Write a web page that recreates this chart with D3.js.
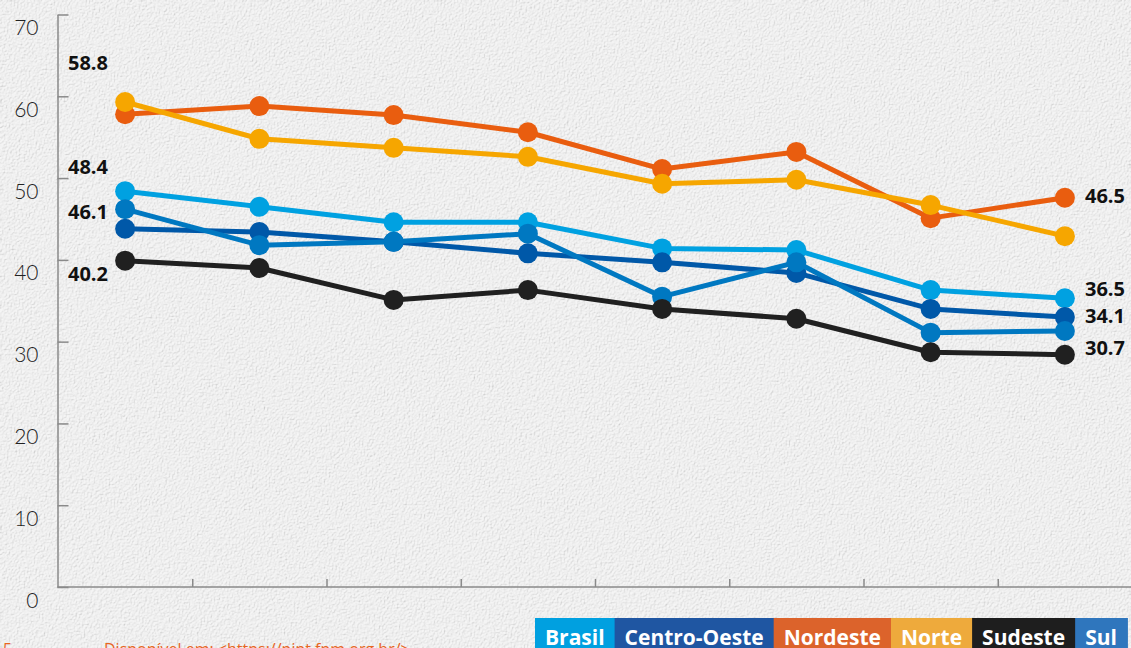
<!DOCTYPE html>
<html>
<head>
<meta charset="utf-8">
<script src="https://cdn.jsdelivr.net/npm/d3@7"></script>
<style>
  html, body { margin: 0; padding: 0; background: #efefef; overflow: hidden; }
  svg { display: block; }
</style>
</head>
<body>
<svg id="chart"></svg>
<script>
// eight periods, the x axis shows no labels
const periods = ["1", "2", "3", "4", "5", "6", "7", "8"];

const regions = ["Brasil", "Centro-Oeste", "Nordeste", "Norte", "Sul", "Sudeste"];

const brasil = [48.4, 46.5, 44.6, 44.6, 41.4, 41.2, 36.3, 35.3];
const centroOeste = [43.8, 43.4, 42.2, 40.8, 39.7, 38.4, 34.0, 33.0];
const nordeste = [57.8, 58.8, 57.7, 55.6, 51.1, 53.2, 45.1, 47.6];
const norte = [59.3, 54.8, 53.7, 52.6, 49.3, 49.8, 46.7, 42.9];
const sul = [46.2, 41.8, 42.2, 43.2, 35.5, 39.7, 31.1, 31.3];
const sudeste = [39.9, 39.0, 35.1, 36.3, 34.0, 32.8, 28.7, 28.4];

const yTicks = [0, 10, 20, 30, 40, 50, 60, 70];

// value labels: text, which end of the chart, height (in axis units) of the baseline
const labelTexts = ["58.8", "48.4", "46.1", "40.2", "46.5", "36.5", "34.1", "30.7"];
const labelSides = ["left", "left", "left", "left", "right", "right", "right", "right"];
const labelLevels = [63.2, 50.5, 45.0, 37.4, 46.9, 35.6, 32.3, 28.4];

const legendNames = ["Brasil", "Centro-Oeste", "Nordeste", "Norte", "Sudeste", "Sul"];

const lineColors = {
  "Brasil": "#00a1e1",
  "Centro-Oeste": "#0058a8",
  "Nordeste": "#e95d0f",
  "Norte": "#f6a600",
  "Sul": "#0078c1",
  "Sudeste": "#202020"
};
const legendColors = {
  "Brasil": "#00a0e0",
  "Centro-Oeste": "#1f56a2",
  "Nordeste": "#dc632b",
  "Norte": "#eeaa3c",
  "Sudeste": "#1e1e1e",
  "Sul": "#2f76bd"
};

const seriesValues = {
  "Brasil": brasil,
  "Centro-Oeste": centroOeste,
  "Nordeste": nordeste,
  "Norte": norte,
  "Sul": sul,
  "Sudeste": sudeste
};

const svgWidth = 1131, svgHeight = 648;
const plotLeft = 57.5, plotRight = 1132, plotTop = 14.5, plotBottom = 587;

const svg = d3.select("#chart")
  .attr("width", svgWidth)
  .attr("height", svgHeight);

// paper texture
const defs = svg.append("defs");
const paper = defs.append("filter").attr("id", "paper")
  .attr("x", 0).attr("y", 0).attr("width", "100%").attr("height", "100%");
paper.append("feTurbulence")
  .attr("type", "fractalNoise")
  .attr("baseFrequency", 0.6)
  .attr("numOctaves", 4)
  .attr("seed", 4)
  .attr("result", "noise");
paper.append("feDiffuseLighting")
  .attr("in", "noise")
  .attr("lighting-color", "#ffffff")
  .attr("surfaceScale", 1.6)
  .attr("result", "lit")
  .append("feDistantLight")
  .attr("azimuth", 45)
  .attr("elevation", 60);

svg.append("rect")
  .attr("width", svgWidth)
  .attr("height", svgHeight)
  .attr("fill", "#f0f0f0");
svg.append("rect")
  .attr("width", svgWidth)
  .attr("height", svgHeight)
  .attr("filter", "url(#paper)")
  .attr("opacity", 0.45);

const xScale = d3.scaleBand()
  .domain(periods)
  .range([58, plotRight]);

// boundaries between periods, for the x axis ticks
const xEdges = d3.scaleLinear()
  .domain([0, periods.length])
  .range([58, plotRight]);

const yScale = d3.scaleLinear()
  .domain([0, 70])
  .range([plotBottom, plotTop]);

const axisColor = "#8a8a8a";

const yAxis = d3.axisLeft(yScale)
  .tickValues(yTicks)
  .tickSize(-11)
  .tickSizeOuter(0)
  .tickPadding(19);

const yAxisG = svg.append("g")
  .attr("transform", `translate(${plotLeft}, 0)`)
  .call(yAxis);
yAxisG.select(".domain").attr("stroke", axisColor).attr("stroke-width", 1.5);
yAxisG.selectAll(".tick line").attr("stroke", axisColor).attr("stroke-width", 1.5);
yAxisG.selectAll(".tick text")
  .attr("dy", 20)
  .attr("fill", "#222")
  .style("font-family", "Lato, 'Open Sans', sans-serif")
  .style("font-weight", 300)
  .style("font-size", "21px");

const xAxis = d3.axisBottom(xEdges)
  .tickValues(d3.range(1, periods.length))
  .tickFormat("")
  .tickSize(-8)
  .tickSizeOuter(0);

const xAxisG = svg.append("g")
  .attr("transform", `translate(0, ${plotBottom})`)
  .call(xAxis);
xAxisG.select(".domain")
  .attr("stroke", axisColor).attr("stroke-width", 1.5)
  .attr("d", `M${plotLeft},0H${plotRight}`);
xAxisG.selectAll(".tick line").attr("stroke", axisColor).attr("stroke-width", 1.5);

const line = d3.line()
  .x((d, i) => xScale(periods[i]) + xScale.bandwidth() / 2)
  .y(d => yScale(d));

const seriesG = svg.selectAll(".series")
  .data(regions)
  .enter()
  .append("g")
  .attr("class", "series");

seriesG.append("path")
  .attr("d", r => line(seriesValues[r]))
  .attr("fill", "none")
  .attr("stroke", r => lineColors[r])
  .attr("stroke-width", 5)
  .attr("stroke-linejoin", "round");

seriesG.selectAll("circle")
  .data(r => seriesValues[r].map(v => ({ region: r, value: v })))
  .enter()
  .append("circle")
  .attr("cx", (d, i) => xScale(periods[i]) + xScale.bandwidth() / 2)
  .attr("cy", d => yScale(d.value))
  .attr("r", 10)
  .attr("fill", d => lineColors[d.region]);

// value labels
svg.selectAll(".value-label")
  .data(labelTexts)
  .enter()
  .append("text")
  .attr("class", "value-label")
  .attr("x", (d, i) => labelSides[i] === "left" ? 68 : 1085)
  .attr("y", (d, i) => yScale(labelLevels[i]))
  .attr("fill", "#111")
  .style("font-family", "'Open Sans', 'Noto Sans', sans-serif")
  .style("font-weight", 700)
  .style("font-size", "20px")
  .text(d => d);

// legend strip at the bottom right
const legendG = svg.append("g").attr("class", "legend");
const legendItems = legendG.selectAll("g")
  .data(legendNames)
  .enter()
  .append("g");

legendItems.append("rect")
  .attr("fill", d => legendColors[d])
  .attr("y", 618)
  .attr("height", 30);

legendItems.append("text")
  .attr("y", 645)
  .attr("fill", "#fff")
  .style("font-family", "'Open Sans', 'Noto Sans', sans-serif")
  .style("font-weight", 700)
  .style("font-size", "21px")
  .text(d => d);

let legendX = 535;
const legendPad = 10;
legendItems.each(function () {
  const item = d3.select(this);
  const w = item.select("text").node().getComputedTextLength();
  item.select("rect").attr("x", legendX).attr("width", w + legendPad * 2 + 1);
  item.select("text").attr("x", legendX + legendPad);
  legendX += w + legendPad * 2;
});

// source line, cut by the bottom edge
svg.append("text")
  .attr("x", 3)
  .attr("y", 655)
  .attr("fill", "#e8651f")
  .style("font-family", "'Open Sans', sans-serif")
  .style("font-size", "16px")
  .text("5");
svg.append("text")
  .attr("x", 104)
  .attr("y", 655)
  .attr("fill", "#e8651f")
  .style("font-family", "'Open Sans', sans-serif")
  .style("font-size", "16px")
  .text("Disponível em: <https://pipt.fpm.org.br/>");
</script>
</body>
</html>
